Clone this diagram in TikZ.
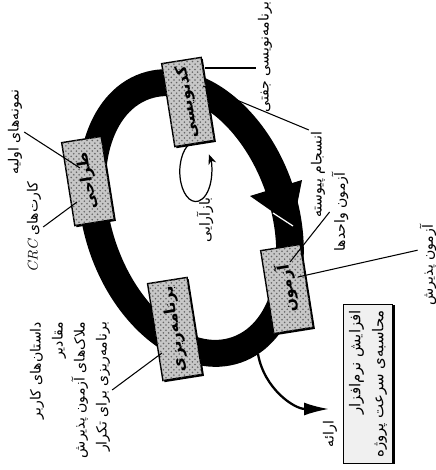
\documentclass[tikz,border=0pt]{standalone}
\usepackage{fontspec}
\newfontfamily\fa[Script=Arabic]{DejaVu Sans}
\TeXXeTstate=1
\usetikzlibrary{arrows.meta,shadows,patterns,calc}
\tikzset{
  phaseBox/.style={
    rectangle,
    draw=black,
    line width=0.8pt,
    fill=black!22,
    postaction={pattern=crosshatch dots, pattern color=black!60},
    drop shadow={shadow xshift=0.9pt, shadow yshift=-0.9pt, fill=black, opacity=1},
    minimum width=1.68cm,
    minimum height=0.8cm,
    rotate=99,
    font=\fa\bfseries\fontsize{9}{11}\selectfont
  },
  noteText/.style={
    rotate=90,
    inner sep=1pt,
    align=right,
    font=\fa\fontsize{8}{12.5}\selectfont
  },
  leader/.style={
    draw=black,
    line width=0.6pt
  },
  releaseBox/.style={
    rectangle,
    draw=black,
    line width=0.8pt,
    fill=black!6,
    drop shadow={shadow xshift=1.4pt, shadow yshift=-0.4pt, fill=black, opacity=1},
    rotate=90,
    minimum width=2.86cm,
    minimum height=0.94cm,
    align=right,
    font=\fa\fontsize{8.5}{13}\selectfont
  },
  releaseArrow/.style={
    -{Latex[length=5mm,width=2.6mm]},
    line width=1.3pt
  },
  loopArrow/.style={
    -{Stealth[length=2mm,width=1.6mm]},
    line width=0.7pt
  }
}

\begin{document}
\begin{tikzpicture}[x=0.02cm, y=-0.02cm]
  \useasboundingbox (0,0) rectangle (436,470);

  % the iteration cycle
  \begin{scope}[shift={(191,218)}, rotate=-71]
    \fill[black, even odd rule] (0,0) ellipse [x radius=153, y radius=107]
                                (0,0) ellipse [x radius=126, y radius=79];
  \end{scope}
  \coordinate (barbIn) at (250,196);
  \coordinate (barbOut) at (302,180);
  \coordinate (headTip) at (293,226);
  \coordinate (headNotch) at (273,213);
  \fill[black] (barbIn) -- (barbOut) -- (headTip) -- cycle;
  \draw[white, line width=0.7pt] (headNotch) -- (headTip);

  % release
  \coordinate (releaseStart) at (258,354);
  \coordinate (releaseTip) at (329,409);
  \draw[releaseArrow] (releaseStart) to[out=-80, in=180] (releaseTip);

  % refactoring loop
  \coordinate (loopTop) at (193,142);
  \draw[loopArrow] (loopTop) arc [start angle=260, end angle=-35, x radius=16, y radius=30];

  % phases
  \node[phaseBox] (codeBox) at (188,102) {\beginR کدنویسی\endR};
  \node[phaseBox] (designBox) at (88,181) {\beginR طراحی\endR};
  \node[phaseBox] (testBox) at (287,289) {\beginR آزمون\endR};
  \node[phaseBox] (planBox) at (175,329) {\beginR برنامه‌ریزی\endR};

  % notes
  \node[noteText] (pairLabel) at (265,57) {\beginR برنامه‌نویسی جفتی\endR};
  \node[noteText] (integLabel) at (318,175) {\beginR انسجام پیوسته\endR};
  \node[noteText] (unitLabel) at (340,212) {\beginR آزمون واحدها\endR};
  \node[noteText] (acceptLabel) at (428,265) {\beginR آزمون پذیرش\endR};
  \node[noteText] (refactorLabel) at (205,220) {\beginR بازآرایی\endR};
  \node[noteText] (protoLabel) at (15,132) {\beginR نمونه‌های اولیه\endR};
  \node[noteText] (crcLabel) at (34,227) {\beginR کارت‌های \beginL{\rmfamily\itshape CRC}\endL\endR};
  \node[noteText] (planLabel) at (70,390) {\beginR داستان‌های کاربر\endR\\
    \beginR مقادیر\endR\\
    \beginR ملاک‌های آزمون پذیرش\endR\\
    \beginR برنامه‌ریزی برای تکرار\endR};
  \node[releaseBox] (incBox) at (368,384) {\beginR افزایش نرم‌افزار\endR\\
    \beginR محاسبه‌ی سرعت پروژه\endR};
  \node[noteText] (releaseLabel) at (330,434) {\beginR ارائه\endR};

  \coordinate (pairFoot) at (205,68);
  \coordinate (integFoot) at (203,86);
  \coordinate (unitFoot) at (290,262);
  \coordinate (acceptFoot) at (298,277);
  \coordinate (protoFoot) at (80,168);
  \coordinate (crcFoot) at (77,202);
  \coordinate (planFoot) at (162,353);
  \draw[leader] (pairFoot) -- (pairFoot -| pairLabel.north);
  \draw[leader] (integFoot) -- (integLabel.north east);
  \draw[leader] (unitFoot) -- (unitLabel.north);
  \draw[leader] (acceptFoot) -- ($(acceptLabel.north)!0.35!(acceptLabel.north east)$);
  \draw[leader] (protoLabel.south) -- (protoFoot);
  \draw[leader] (crcLabel.south) -- (crcFoot);
  \draw[leader] (planLabel.south) -- (planFoot);
\end{tikzpicture}
\end{document}
